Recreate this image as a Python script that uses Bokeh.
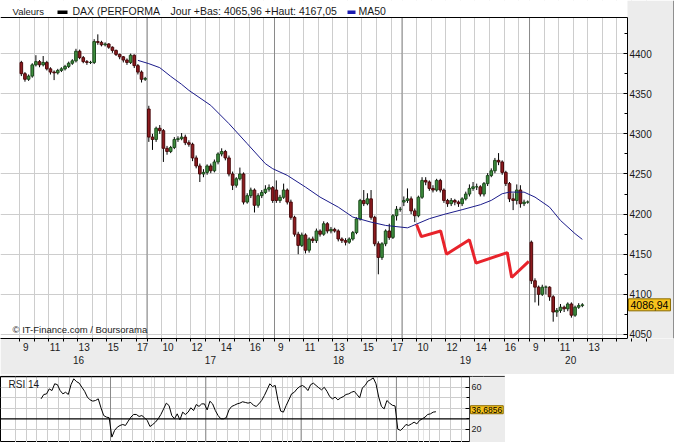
from bokeh.plotting import figure
from bokeh.models import (ColumnDataSource, Range1d, FixedTicker, Label, LinearAxis,
                          BoxAnnotation, Grid)
from bokeh.layouts import column
from bokeh.embed import file_html
from bokeh.resources import INLINE

# ---------------- data ----------------
day_names = ["16", "17", "18", "19", "20"]
bars_per_day = 35          # 15-minute bars per session
labeled_hours = [[9, 11, 13, 15, 17], [10, 12, 14, 16], [9, 11, 13, 15, 17],
                 [10, 12, 14, 16], [9, 11, 13]]
all_hours = [9, 10, 11, 12, 13, 14, 15, 16, 17]
day_label_pos = [16.2, 52.4, 87.6, 122.4, 151.3]

open_16 = [4389, 4375, 4368, 4372, 4386, 4390, 4386, 4389, 4381, 4377, 4376, 4379, 4381, 4384, 4388, 4391, 4403, 4395,
           4390, 4389, 4389, 4415, 4414, 4411, 4412, 4408, 4404, 4399, 4396, 4392, 4389, 4398, 4385, 4377, 4368]
close_16 = [4375, 4368, 4372, 4386, 4390, 4386, 4389, 4381, 4377, 4376, 4379, 4381, 4384, 4388, 4391, 4403, 4395, 4390,
            4389, 4389, 4415, 4414, 4411, 4412, 4408, 4404, 4399, 4396, 4392, 4389, 4398, 4385, 4377, 4368, 4369]
high_16 = [4391, 4377, 4374, 4388, 4398, 4392, 4397, 4391, 4383, 4379, 4381, 4383, 4386, 4390, 4393, 4406, 4405, 4397,
           4392, 4391, 4418, 4424, 4416, 4414, 4413, 4409, 4405, 4400, 4397, 4394, 4400, 4399, 4387, 4379, 4371]
low_16 = [4372, 4365, 4366, 4370, 4384, 4383, 4384, 4379, 4374, 4367, 4374, 4377, 4379, 4382, 4386, 4389, 4393, 4388,
          4386, 4387, 4387, 4411, 4409, 4409, 4406, 4401, 4397, 4393, 4389, 4386, 4387, 4382, 4374, 4364, 4366]

open_17 = [4331, 4296, 4293, 4307, 4304, 4282, 4278, 4283, 4293, 4294, 4296, 4289, 4287, 4270, 4260, 4250, 4252, 4260,
           4254, 4265, 4275, 4278, 4270, 4250, 4236, 4244, 4250, 4215, 4223, 4230, 4211, 4223, 4227, 4231, 4233]
close_17 = [4296, 4293, 4307, 4304, 4282, 4278, 4283, 4293, 4294, 4296, 4289, 4287, 4270, 4260, 4250, 4252, 4260, 4254,
            4265, 4275, 4278, 4270, 4250, 4236, 4244, 4250, 4215, 4223, 4230, 4211, 4223, 4227, 4231, 4233, 4217]
high_17 = [4335, 4300, 4309, 4311, 4306, 4285, 4285, 4296, 4297, 4301, 4299, 4292, 4289, 4273, 4263, 4256, 4262, 4263,
           4268, 4277, 4282, 4280, 4273, 4253, 4246, 4258, 4252, 4226, 4233, 4232, 4226, 4230, 4236, 4237, 4235]
low_17 = [4290, 4280, 4290, 4300, 4265, 4274, 4276, 4281, 4290, 4292, 4286, 4284, 4266, 4257, 4240, 4246, 4249, 4251,
          4252, 4262, 4272, 4267, 4247, 4230, 4233, 4242, 4212, 4213, 4220, 4202, 4208, 4220, 4225, 4228, 4214]

open_18 = [4230, 4217, 4221, 4230, 4215, 4196, 4175, 4161, 4174, 4155, 4169, 4167, 4179, 4175, 4188, 4179, 4181, 4179,
           4169, 4167, 4165, 4169, 4177, 4194, 4217, 4213, 4219, 4196, 4163, 4146, 4163, 4179, 4171, 4198, 4206]
close_18 = [4217, 4221, 4230, 4215, 4196, 4175, 4161, 4174, 4155, 4169, 4167, 4179, 4175, 4188, 4179, 4181, 4179, 4169,
            4167, 4165, 4169, 4177, 4194, 4217, 4213, 4219, 4196, 4163, 4146, 4163, 4179, 4171, 4198, 4206, 4206]
high_18 = [4242, 4224, 4238, 4232, 4218, 4198, 4178, 4177, 4176, 4171, 4172, 4182, 4181, 4191, 4190, 4184, 4183, 4181,
           4171, 4170, 4171, 4179, 4196, 4219, 4230, 4226, 4230, 4198, 4166, 4165, 4181, 4188, 4200, 4210, 4209]
low_18 = [4214, 4214, 4219, 4212, 4193, 4172, 4150, 4159, 4151, 4152, 4164, 4164, 4172, 4173, 4176, 4176, 4177, 4166,
          4164, 4161, 4163, 4167, 4175, 4192, 4210, 4211, 4193, 4160, 4125, 4143, 4160, 4168, 4169, 4192, 4203]

open_19 = [4215, 4217, 4219, 4204, 4198, 4221, 4242, 4240, 4232, 4230, 4242, 4230, 4217, 4213, 4217, 4215, 4213, 4219,
           4225, 4232, 4234, 4234, 4225, 4238, 4248, 4254, 4267, 4265, 4252, 4238, 4219, 4217, 4230, 4213, 4215]
close_19 = [4217, 4219, 4204, 4198, 4221, 4242, 4240, 4232, 4230, 4242, 4230, 4217, 4213, 4217, 4215, 4213, 4219, 4225,
            4232, 4234, 4234, 4225, 4238, 4248, 4254, 4267, 4265, 4252, 4238, 4219, 4217, 4230, 4213, 4215, 4215]
high_19 = [4222, 4232, 4222, 4207, 4223, 4246, 4246, 4242, 4236, 4244, 4244, 4232, 4219, 4220, 4219, 4217, 4221, 4228,
           4237, 4240, 4238, 4236, 4240, 4251, 4257, 4270, 4276, 4267, 4254, 4240, 4226, 4237, 4236, 4218, 4217]
low_19 = [4210, 4214, 4200, 4190, 4196, 4219, 4236, 4229, 4227, 4228, 4227, 4214, 4209, 4210, 4211, 4209, 4210, 4217,
          4222, 4229, 4230, 4222, 4222, 4235, 4246, 4251, 4261, 4249, 4235, 4215, 4205, 4212, 4208, 4210, 4213]

open_20 = [4165, 4117, 4109, 4100, 4109, 4109, 4097, 4078, 4080, 4084, 4082, 4088, 4074, 4084, 4086]
close_20 = [4117, 4109, 4100, 4109, 4109, 4097, 4078, 4080, 4084, 4082, 4088, 4074, 4084, 4086, 4086.94]
high_20 = [4167.05, 4120, 4111, 4112, 4111, 4110, 4099, 4083, 4088, 4086, 4090, 4090, 4086, 4089, 4089]
low_20 = [4113, 4090, 4086, 4098, 4100, 4092, 4065.96, 4072, 4077, 4078, 4079, 4071, 4072, 4082, 4084]

# MA50 (bar index, value)
ma_bar = [32, 35, 38, 41, 44, 46, 52, 57, 62, 67, 69, 73, 78, 82, 87, 91, 96, 100, 106, 107, 112, 116, 121,
          126, 129, 132, 134, 138, 141, 145, 148, 152, 154]
ma50 = [4391.6, 4387.5, 4382.5, 4371.7, 4361.7, 4354.2, 4335.5, 4312.7, 4287.8, 4262.8, 4256.6, 4248.3, 4233.7,
        4221.2, 4208.7, 4196.3, 4190.0, 4185.9, 4182.9, 4184.7, 4194.3, 4199.6, 4205.5, 4211.7, 4217.1, 4225.4,
        4227.4, 4227.4, 4221.2, 4208.7, 4192.1, 4175.6, 4168.5]

# red hand-drawn trend line
trend_x = [109.0, 110.3, 115.6, 117.2, 123.5, 125.3, 133.9, 135.1, 139.8]
trend_y = [4187, 4172, 4179, 4150, 4168, 4139, 4152, 4121, 4141]

# RSI 14 (first value at bar 9)
rsi_first_bar = 9
rsi14 = [48.9, 53.0, 53.5, 58.3, 56.7, 63.1, 62.3, 56.7, 53.6, 55.1, 53.0, 62.3, 67.8, 65.2, 63.7, 59.8, 56.0,
         50.5, 47.9, 46.7, 47.3, 48.9, 40.4, 33.1, 31.6, 31.0, 12.7, 19.0, 22.1, 23.7, 24.6, 23.7, 27.8, 31.6,
         34.1, 34.1, 32.2, 33.1, 31.0, 28.4, 22.7, 24.6, 26.8, 30.0, 34.1, 39.4, 44.8, 42.5, 33.1, 30.0, 34.7,
         29.0, 36.3, 34.1, 36.3, 40.4, 37.8, 43.5, 41.7, 44.1, 44.1, 38.4, 46.6, 44.1, 37.8, 33.1, 30.0, 30.0,
         31.0, 38.4, 41.7, 42.8, 44.1, 44.8, 46.1, 45.5, 44.8, 45.5, 42.8, 41.7, 44.1, 47.3, 52.0, 57.4, 63.1,
         60.5, 61.5, 47.3, 37.3, 36.3, 42.5, 47.9, 53.6, 55.1, 58.3, 60.5, 61.5, 59.8, 56.7, 62.3, 63.7, 61.5,
         59.3, 57.4, 59.8, 56.0, 51.0, 48.9, 50.5, 47.9, 49.8, 51.0, 53.0, 53.6, 55.1, 56.0, 53.0, 49.8, 59.3,
         61.5, 65.6, 66.9, 68.7, 63.1, 50.5, 41.7, 39.4, 47.3, 44.8, 42.8, 42.2, 20.2, 19.0, 21.5, 24.6, 23.7,
         25.2, 26.8, 25.2, 28.4, 30.0, 31.6, 34.1, 34.7, 36.3, 36.6856]

price_ticks = [4050, 4100, 4150, 4200, 4250, 4300, 4350, 4400]
price_minor = [4075, 4125, 4175, 4225, 4275, 4325, 4375, 4425]
rsi_ticks = [20, 40, 60]
rsi_minor = [30, 50]
rsi_levels = [30, 70]
last_price = 4086.94
day_low, day_high = 4065.96, 4167.05

# ---------------- styling / geometry ----------------
FONT = "Liberation Sans"
GRAY = "#ececec"
GRID = "#cdcdcd"
DAYLINE = "#8a8a8a"
TXT = "#1a1a1a"

# main panel: 3.643 px per bar, bar 0 starts at px 19
PXB, X_ORG = 3.643, 19.0
W_MAIN, FR_RIGHT = 674, 627
X0 = (0 - X_ORG) / PXB
X1 = (FR_RIGHT - X_ORG) / PXB          # price axis position
XR = (W_MAIN - X_ORG) / PXB
Y_BOT, TOPLINE = 4045.0, 4445.0
PXY = 321 / (TOPLINE - Y_BOT)           # 17 px .. 338 px
Y_TOP = TOPLINE + 17 / PXY


def y_strip(px):
    return TOPLINE + (17 - px) / PXY


def fmt(v, nd):
    return f"{v:.{nd}f}".replace(".", ",")


opens = open_16 + open_17 + open_18 + open_19 + open_20
closes = close_16 + close_17 + close_18 + close_19 + close_20
highs = high_16 + high_17 + high_18 + high_19 + high_20
lows = low_16 + low_17 + low_18 + low_19 + low_20
n = len(closes)
xs = [i + 0.5 for i in range(n)]
up = [c >= o for o, c in zip(opens, closes)]
src = ColumnDataSource(dict(
    x=xs, high=highs, low=lows,
    top=[max(o, c) for o, c in zip(opens, closes)],
    bottom=[min(o, c) for o, c in zip(opens, closes)],
    fill=["#3f8f3f" if u else "#8e1b1f" for u in up],
    edge=["#1c4a1c" if u else "#4a0a0c" for u in up],
))

hour_pos, label_pos, label_txt = [], [], {}
for d in range(len(day_names)):
    for h in all_hours:
        hour_pos.append(bars_per_day * d + 4 * (h - 9))
for d, hs in enumerate(labeled_hours):
    for h in hs:
        t = bars_per_day * d + 4 * (h - 9) + 1.75
        label_pos.append(t)
        label_txt[t] = str(h)
day_lines = [bars_per_day * d for d in range(1, len(day_names))]

p = figure(width=W_MAIN, height=374, x_range=Range1d(X0, XR), y_range=Range1d(Y_BOT, Y_TOP),
           y_axis_location="right", output_backend="svg", toolbar_location=None, title=None,
           min_border_left=0, min_border_right=0, min_border_top=0, min_border_bottom=36,
           border_fill_color=GRAY, background_fill_color="white", outline_line_color=None)

ya = p.yaxis[0]
ya.fixed_location = X1
ya.bounds = (Y_BOT, TOPLINE)
ya.ticker = FixedTicker(ticks=price_ticks, minor_ticks=price_minor)
ya.major_tick_in, ya.major_tick_out = 4, 0
ya.minor_tick_in, ya.minor_tick_out = 3, 0
ya.major_label_standoff = 2
ya.major_label_text_font = FONT
ya.major_label_text_font_size = "10px"
ya.major_label_text_color = TXT
ya.axis_line_color = "black"

xa = p.xaxis[0]
xa.bounds = (X0, X1)
xa.ticker = FixedTicker(ticks=label_pos, minor_ticks=hour_pos)
xa.major_label_overrides = label_txt
xa.major_tick_line_color = None
xa.major_tick_in, xa.major_tick_out = 0, 3
xa.minor_tick_in, xa.minor_tick_out = 0, 3
xa.major_label_standoff = 1
xa.major_label_text_font = FONT
xa.major_label_text_font_size = "10px"
xa.major_label_text_color = TXT
xa.axis_line_color = "black"

day_axis = LinearAxis(ticker=FixedTicker(ticks=day_label_pos, minor_ticks=[]),
                      major_label_overrides={pos: nm for pos, nm in zip(day_label_pos, day_names)},
                      axis_line_color=None, major_tick_line_color=None, minor_tick_line_color=None,
                      major_tick_in=0, major_tick_out=0, major_label_standoff=2,
                      major_label_text_font=FONT, major_label_text_font_size="10px",
                      major_label_text_color=TXT)
p.add_layout(day_axis, "below")

p.ygrid.ticker = FixedTicker(ticks=price_ticks)
p.ygrid.grid_line_color = GRID
p.xgrid.ticker = FixedTicker(ticks=hour_pos)
p.xgrid.grid_line_color = GRID

# white legend strip and grey price-scale strip (under the marks, over the grid)
p.add_layout(BoxAnnotation(bottom=TOPLINE, right=X1, fill_color="white", fill_alpha=1.0,
                           line_alpha=0, level="underlay"))
p.add_layout(BoxAnnotation(left=X1, fill_color=GRAY, fill_alpha=1.0, line_alpha=0, level="underlay"))

p.segment(x0=day_lines, y0=Y_BOT, x1=day_lines, y1=TOPLINE, line_color=DAYLINE, line_width=1)
p.segment(x0=X0, y0=TOPLINE, x1=X1, y1=TOPLINE, line_color="black", line_width=1)
p.segment(x0=XR - 0.5 / PXB, y0=Y_BOT, x1=XR - 0.5 / PXB, y1=Y_TOP, line_color="#333333", line_width=1)

p.segment(x0="x", y0="low", x1="x", y1="high", source=src, line_color="black", line_width=1)
p.vbar(x="x", width=0.72, top="top", bottom="bottom", source=src,
       fill_color="fill", line_color="edge", line_width=1)
p.line([b + 0.5 for b in ma_bar], ma50, line_color="#1b1b8a", line_width=1)
p.line(trend_x, trend_y, line_color="#e8232b", line_width=3)

# legend strip
p.quad(left=[(57 - X_ORG) / PXB, (347 - X_ORG) / PXB], right=[(67 - X_ORG) / PXB, (355 - X_ORG) / PXB],
       bottom=y_strip(13.5), top=y_strip(10), fill_color=["black", "#1b1bb0"], line_color=None)
for px, txt, fs in [(12, "Valeurs", "9.5px"), (72, "DAX (PERFORMA", "10.5px"),
                    (170, "Jour +Bas: %s +Haut: %s" % (fmt(day_low, 2), fmt(day_high, 2)), "10.5px"),
                    (358, "MA50", "10.5px")]:
    p.add_layout(Label(x=(px - X_ORG) / PXB, y=y_strip(10.5), text=txt, text_baseline="middle",
                       text_font=FONT, text_font_size=fs, text_color=TXT))

p.add_layout(Label(x=(12 - X_ORG) / PXB, y=Y_BOT, y_offset=4, text="\u00a9 IT-Finance.com / Boursorama",
                   text_baseline="bottom", text_font=FONT, text_font_size="9.5px", text_color="#222222"))

p.add_layout(Label(x=X1, y=last_price, x_offset=1, text=fmt(last_price, 2),
                   text_baseline="middle", text_font=FONT, text_font_size="10.5px", text_color="black",
                   background_fill_color="#f6c21c", border_line_color="#8a6a00", padding=2))

# ---------------- RSI panel ----------------
# RSI panel: 2.723 px per bar, bar 0 starts at px 14.7 ; 70 at px 376, 30 at px 418.3
RPXB, RX_ORG = 2.723, 14.7
W_RSI = 505
RX0 = (0 - RX_ORG) / RPXB
RX1 = (469 - RX_ORG) / RPXB
RXR = (W_RSI - RX_ORG) / RPXB
RPXY = (418.3 - 376) / 40.0
R_TOP = 70.0
R_BOT = 30.0 - (442 - 418.3) / RPXY

r = figure(width=W_RSI, height=68, x_range=Range1d(RX0, RXR), y_range=Range1d(R_BOT, R_TOP),
           y_axis_location="right", x_axis_location=None, output_backend="svg", toolbar_location=None,
           title=None, min_border_left=0, min_border_right=0, min_border_top=2, min_border_bottom=0,
           border_fill_color=GRAY, background_fill_color="white",
           outline_line_color="black", outline_line_width=1)
ra = r.yaxis[0]
ra.fixed_location = RX1
ra.ticker = FixedTicker(ticks=rsi_ticks, minor_ticks=rsi_minor)
ra.major_label_overrides = {40: ""}
ra.major_tick_in, ra.major_tick_out = 4, 0
ra.minor_tick_in, ra.minor_tick_out = 3, 0
ra.major_label_standoff = 2
ra.major_label_text_font = FONT
ra.major_label_text_font_size = "9px"
ra.major_label_text_color = TXT
ra.axis_line_color = "#444444"
r.ygrid.ticker = FixedTicker(ticks=[20, 40, 50, 60])
r.ygrid.grid_line_color = GRID
r.add_layout(Grid(dimension=0, ticker=FixedTicker(ticks=hour_pos), grid_line_color=GRID))
r.add_layout(BoxAnnotation(left=RX1, fill_color=GRAY, fill_alpha=1.0, line_alpha=0, level="underlay"))
r.segment(x0=day_lines, y0=R_BOT, x1=day_lines, y1=R_TOP, line_color=DAYLINE, line_width=1)
r.segment(x0=[RX0] * len(rsi_levels), y0=rsi_levels, x1=[RX1] * len(rsi_levels), y1=rsi_levels,
          line_color="black", line_width=1.3)
r.line([rsi_first_bar + i + 0.5 for i in range(len(rsi14))], rsi14, line_color="black", line_width=1)
r.add_layout(Label(x=(8 - RX_ORG) / RPXB, y=R_TOP, y_offset=-2, text="RSI 14", text_baseline="top",
                   text_font=FONT, text_font_size="10px", text_color=TXT))
r.add_layout(Label(x=RX1, y=rsi14[-1], x_offset=1, y_offset=2, text=fmt(rsi14[-1], 4),
                   text_baseline="middle", text_font=FONT, text_font_size="8.5px", text_color="black",
                   background_fill_color="#f6c21c", border_line_color="#8a6a00", padding=1))

layout = column(p, r, spacing=0)
open("out.html", "w").write(file_html(layout, INLINE))
